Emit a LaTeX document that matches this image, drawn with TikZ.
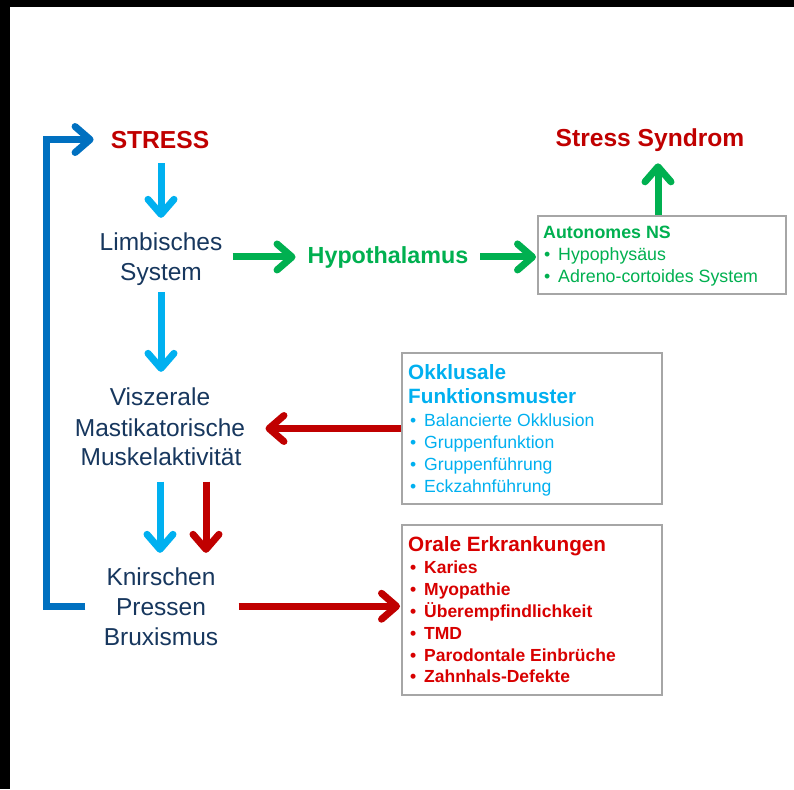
\documentclass[tikz,border=0pt]{standalone}
\usepackage{fontspec}
\setmainfont{Liberation Sans}
\usetikzlibrary{arrows.meta,fit}
\definecolor{navy}{HTML}{17375E}
\definecolor{dred}{HTML}{C00000}
\definecolor{bred}{HTML}{D80000}
\definecolor{grn}{HTML}{00B050}
\definecolor{cyn}{HTML}{00B0F0}
\definecolor{blu}{HTML}{0070C0}
\definecolor{bord}{HTML}{A6A6A6}
\newcommand{\myitem}[1]{\makebox[14pt][l]{\textbullet}#1}
\begin{document}
\begin{tikzpicture}[x=1pt,y=-1pt,
  lbl/.style={inner sep=0, anchor=base},
  mainlbl/.style={lbl, text=navy, font=\fontsize{24.5}{29}\selectfont},
  titlelbl/.style={lbl, text=dred, font=\bfseries\fontsize{24.6}{29}\selectfont},
  boxlbl/.style={inner sep=0, anchor=base west},
  grp/.style={inner sep=0, draw=none},
  infobox/.style={draw=bord, line width=2pt, anchor=north west, inner sep=0, fill=none},
  arr/.style={line width=7pt, -{Straight Barb[length=15pt,width=26pt,round]}},
  cyarr/.style={arr, draw=cyn},
  grarr/.style={arr, draw=grn},
  rdarr/.style={arr, draw=dred},
  fbarr/.style={arr, draw=blu, line cap=butt, line join=miter}
]
\useasboundingbox (0,0) rectangle (794,789);
\fill[white] (0,0) rectangle (794,789);
\fill[black] (0,0) rectangle (794,7);
\fill[black] (0,0) rectangle (10,789);

% main column
\node[titlelbl] (stress) at (160,148) {STRESS};
\node[mainlbl] (limb1) at (161,250) {Limbisches};
\node[mainlbl] (limb2) at (161,280) {System};
\node[grp, fit=(limb1)(limb2)] (limb) {};
\node[lbl, text=grn, font=\bfseries\fontsize{23.3}{28}\selectfont] (hypo) at (388,263) {Hypothalamus};
\node[titlelbl] (syn) at (650,146) {Stress Syndrom};
\node[mainlbl] (visz1) at (160,405) {Viszerale};
\node[mainlbl] (visz2) at (160,436) {Mastikatorische};
\node[mainlbl] (visz3) at (161,465) {Muskelaktivität};
\node[grp, fit=(visz1)(visz2)(visz3)] (visz) {};
\node[mainlbl] (knir1) at (161,585) {Knirschen};
\node[mainlbl] (knir2) at (161,615) {Pressen};
\node[mainlbl] (knir3) at (161,645) {Bruxismus};
\node[grp, fit=(knir1)(knir2)(knir3)] (knir) {};

% boxes
\node[infobox, minimum width=248, minimum height=78] (auto) at (537,215) {};
\node[boxlbl, text=grn, font=\bfseries\fontsize{17.8}{21}\selectfont] (auto1) at (543,238) {Autonomes NS};
\node[boxlbl, text=grn, font=\fontsize{17.8}{21}\selectfont] (auto2) at (544,260) {\myitem{Hypophysäus}};
\node[boxlbl, text=grn, font=\fontsize{17.8}{21}\selectfont] (auto3) at (544,282) {\myitem{Adreno-cortoides System}};

\node[infobox, minimum width=260, minimum height=151] (okk) at (401,352) {};
\node[boxlbl, text=cyn, font=\bfseries\fontsize{20.7}{24}\selectfont] (okk1) at (408,379) {Okklusale};
\node[boxlbl, text=cyn, font=\bfseries\fontsize{20.7}{24}\selectfont] (okk2) at (408,403) {Funktionsmuster};
\node[boxlbl, text=cyn, font=\fontsize{17.6}{21}\selectfont] (okk3) at (410,426) {\myitem{Balancierte Okklusion}};
\node[boxlbl, text=cyn, font=\fontsize{17.6}{21}\selectfont] (okk4) at (410,448) {\myitem{Gruppenfunktion}};
\node[boxlbl, text=cyn, font=\fontsize{17.6}{21}\selectfont] (okk5) at (410,470) {\myitem{Gruppenführung}};
\node[boxlbl, text=cyn, font=\fontsize{17.6}{21}\selectfont] (okk6) at (410,492) {\myitem{Eckzahnführung}};

\node[infobox, minimum width=260, minimum height=170] (oral) at (401,524) {};
\node[boxlbl, text=bred, font=\bfseries\fontsize{20.7}{24}\selectfont] (oral1) at (408,551) {Orale Erkrankungen};
\node[boxlbl, text=bred, font=\bfseries\fontsize{17.5}{21}\selectfont] (oral2) at (410,573) {\myitem{Karies}};
\node[boxlbl, text=bred, font=\bfseries\fontsize{17.5}{21}\selectfont] (oral3) at (410,595) {\myitem{Myopathie}};
\node[boxlbl, text=bred, font=\bfseries\fontsize{17.5}{21}\selectfont] (oral4) at (410,617) {\myitem{Überempfindlichkeit}};
\node[boxlbl, text=bred, font=\bfseries\fontsize{17.5}{21}\selectfont] (oral5) at (410,639) {\myitem{TMD}};
\node[boxlbl, text=bred, font=\bfseries\fontsize{17.5}{21}\selectfont] (oral6) at (410,661) {\myitem{Parodontale Einbrüche}};
\node[boxlbl, text=bred, font=\bfseries\fontsize{17.5}{21}\selectfont] (oral7) at (410,682) {\myitem{Zahnhals-Defekte}};

% connectors
\draw[cyarr, shorten <=15pt, shorten >=14pt] (stress.south -| limb.north) -- (limb.north);
\draw[grarr, shorten <=10pt, shorten >=12pt] (limb.east |- hypo.west) -- (hypo.west);
\draw[grarr, shorten <=12pt, shorten >=1pt] (hypo.east) -- (hypo.east -| auto.west);
\draw[grarr, shorten >=12pt] ([xshift=-4pt]auto.north) -- ([xshift=-4pt]auto.north |- syn.south);
\draw[cyarr, shorten <=7pt, shorten >=15pt] (limb.south) -- (limb.south |- visz.north);
\draw[rdarr, shorten >=20pt] (okk.west) -- (okk.west -| visz.east);
\draw[cyarr, shorten <=16pt, shorten >=14pt] (visz.south) -- (visz.south |- knir.north);
\draw[rdarr, shorten <=16pt, shorten >=14pt] ([xshift=46pt]visz.south) -- ([xshift=46pt]visz.south |- knir.north);
\draw[rdarr, shorten <=20pt, shorten >=1pt] (knir.east) -- (knir.east -| oral.west);
\draw[fbarr] ([xshift=-18pt]knir.west) -- ++(-39,0) |- ([xshift=-17pt]stress.west);
\end{tikzpicture}
\end{document}
